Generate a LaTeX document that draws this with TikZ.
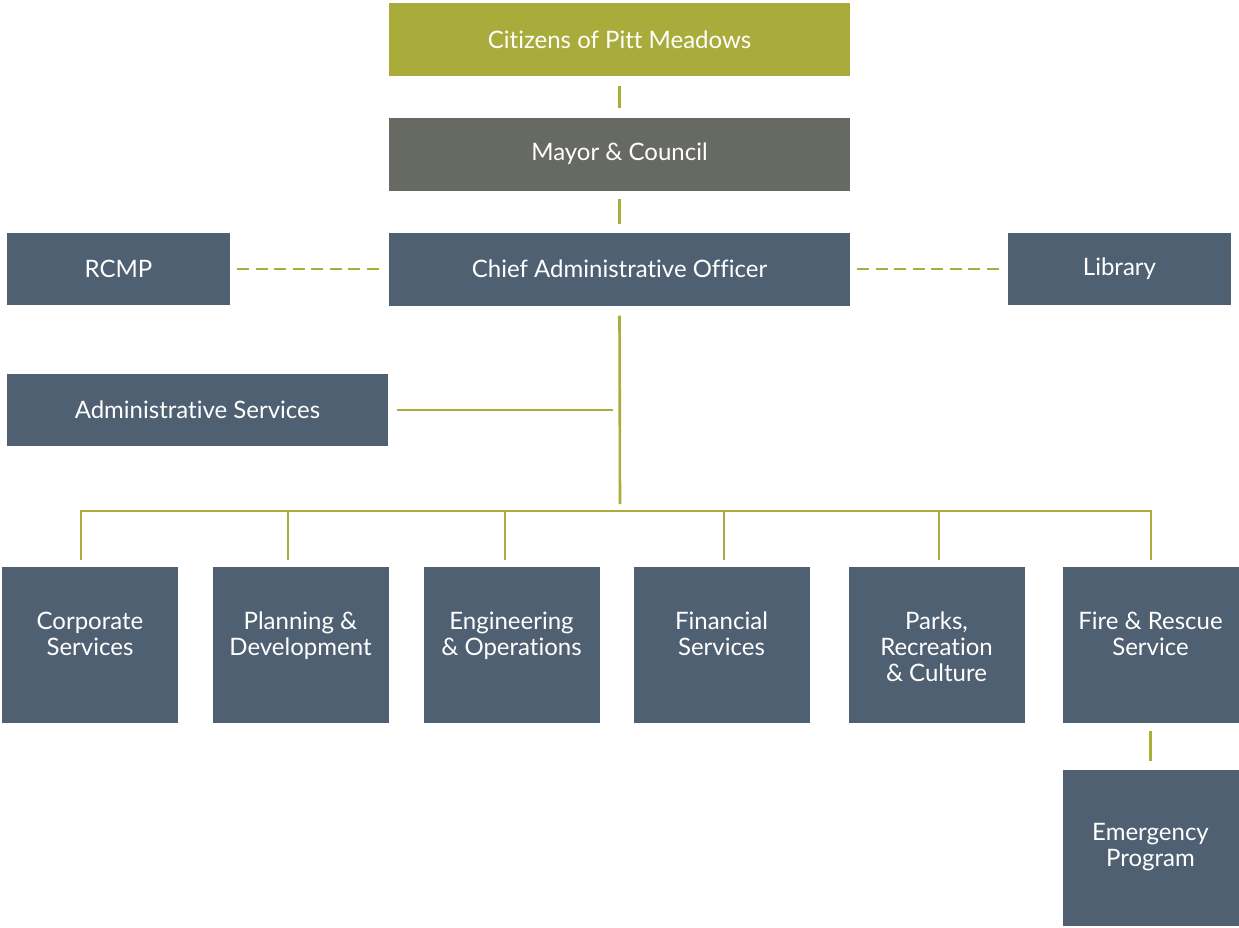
\documentclass[tikz,border=0pt]{standalone}
\usepackage{fontspec}
\setmainfont{Lato}[Ligatures={NoCommon}]
\definecolor{olive}{HTML}{A9AC3B}
\definecolor{mayorgray}{HTML}{676A63}
\definecolor{slate}{HTML}{4F6072}
\definecolor{linkcol}{HTML}{A9AE3A}
\begin{document}
\begin{tikzpicture}[x=1pt,y=-1pt,
  box/.style={fill=slate, draw=none, inner sep=0pt, text=white,
    font=\fontsize{24}{26}\selectfont, align=center},
  wide/.style={box, minimum width=461pt, minimum height=73pt},
  side/.style={box, minimum width=223pt, minimum height=72pt},
  dept/.style={box, minimum width=176pt, minimum height=156pt},
  toptext/.style={anchor=north, yshift=-45pt, text=white, inner sep=0pt,
    font=\fontsize{24}{26}\selectfont, align=center},
  link/.style={draw=linkcol, line width=2.6pt},
  dashlink/.style={link, dash pattern=on 12pt off 6.5pt}
]
\useasboundingbox (0,0) rectangle (1239,927);

\node[wide, fill=olive] (cit) at (619.5,39.5) {Citizens of Pitt Meadows};
\node[wide, fill=mayorgray] (mayor) at (619.5,154) {Mayor \& Council};
\node[wide] (cao) at (619.5,269) {Chief Administrative Officer};
\node[side] (rcmp) at (118.5,269) {RCMP};
\node[side] (lib) at (1119.5,269) {Library};
\node[box, minimum width=381pt, minimum height=72pt] (admin) at (197.5,410) {Administrative Services};

\node[dept, label={[toptext]north:Corporate\\Services}] (corp) at (90,645) {};
\node[dept, label={[toptext]north:Planning \&\\Development}] (plan) at (300.5,645) {};
\node[dept, label={[toptext]north:Engineering\\\& Operations}] (eng) at (511.5,645) {};
\node[dept, label={[toptext]north:Financial\\Services}] (fin) at (721.5,645) {};
\node[dept, label={[toptext]north:Parks,\\Recreation\\\& Culture}] (parks) at (936.5,645) {};
\node[dept, label={[toptext]north:Fire \& Rescue\\Service}] (fire) at (1150.5,645) {};
\node[dept] (emer) at (1150.5,847.5) {Emergency\\Program};

\coordinate (caoEnd) at (620,504);
\coordinate (adminJ) at (613,410);
\coordinate (busL) at (81,511);
\coordinate (busR) at (1151,511);

\draw[link] ([yshift=-10pt]cit.south) -- ([yshift=9pt]mayor.north);
\draw[link] ([yshift=-8pt]mayor.south) -- ([yshift=8pt]cao.north);
\draw[dashlink] ([xshift=7pt]rcmp.east) -- ([xshift=-6pt]cao.west);
\draw[dashlink] ([xshift=7pt]cao.east) -- ([xshift=-5pt]lib.west);
\draw[link] ([yshift=-10pt]cao.south) -- (caoEnd);
\draw[link] ([xshift=9pt]admin.east) -- (adminJ);
\draw[link, line cap=rect] (busL) -- (busR);
\draw[link] (busL) -- (81,560);
\foreach \x in {288,505,724,939}{
  \draw[link] (\x,511) -- (\x,560);
}
\draw[link] (busR) -- (1151,560);
\draw[link] ([yshift=-8pt]fire.south) -- ([yshift=8pt]emer.north);
\end{tikzpicture}
\end{document}
